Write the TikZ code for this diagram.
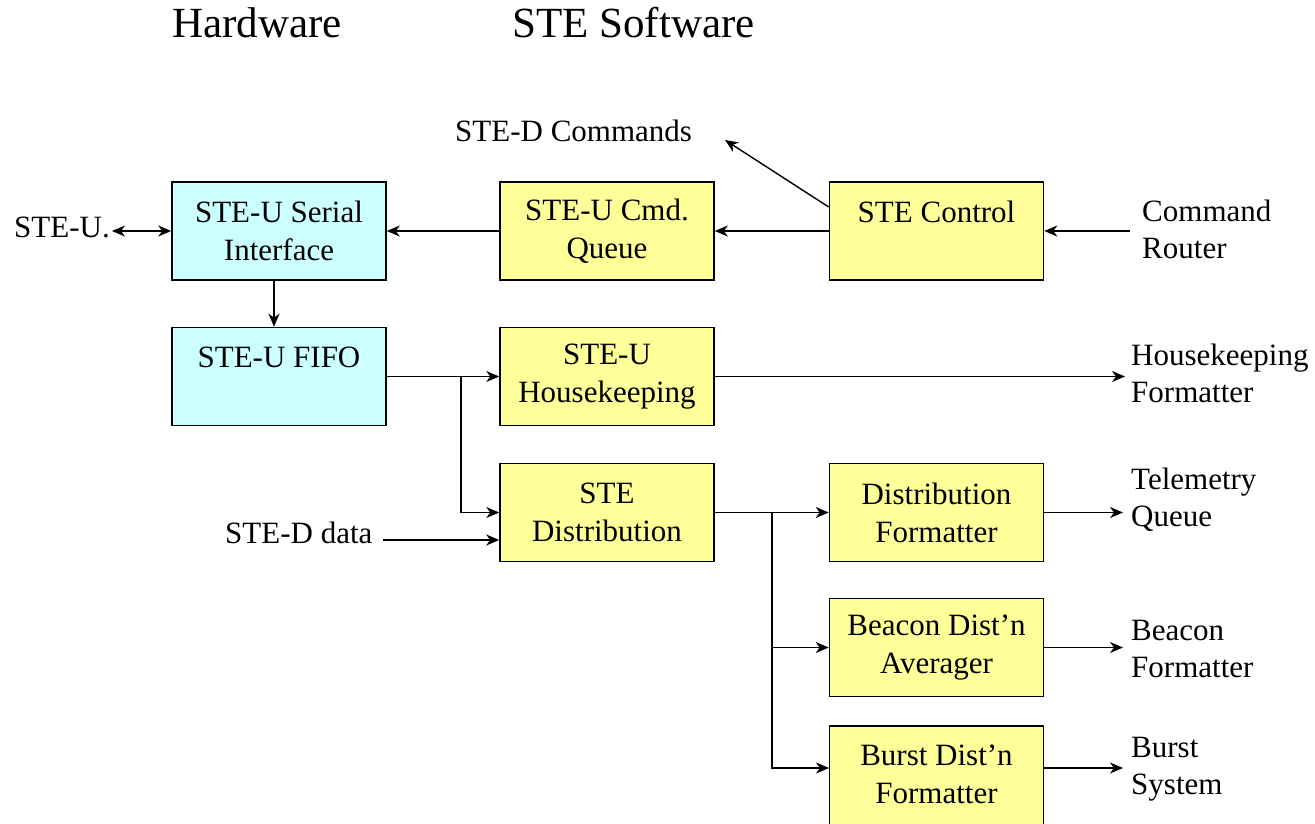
\documentclass[tikz,border=0pt]{standalone}
\usepackage{fontspec}
\setmainfont{Liberation Serif}
\usetikzlibrary{arrows.meta}
\definecolor{hwfill}{HTML}{CCFFFF}
\definecolor{swfill}{HTML}{FFFF99}
\begin{document}
\begin{tikzpicture}[x=1pt,y=-1pt,
  blk/.style={draw=black, line width=1.6pt, minimum width=214pt, minimum height=98pt,
    inner sep=0pt, align=center, font=\fontsize{31}{38}\selectfont},
  hw/.style={blk, fill=hwfill},
  sw/.style={blk, fill=swfill},
  boxtext/.style={inner sep=0pt, align=center, font=\fontsize{31}{38}\selectfont},
  lbl/.style={inner sep=0pt, align=left, font=\fontsize{31}{37}\selectfont},
  ttl/.style={inner sep=0pt, anchor=base west, font=\fontsize{43}{50}\selectfont},
  tip/.style={Stealth[length=13pt,width=11pt,inset=4pt]},
  flow/.style={line width=1.4pt, -{Stealth[length=13pt,width=11pt,inset=4pt]}},
  both/.style={line width=1.4pt, {Stealth[length=13pt,width=11pt,inset=4pt]}-{Stealth[length=13pt,width=11pt,inset=4pt]}},
  ]
\useasboundingbox (0,0) rectangle (1315,824);

% column headings
\node[ttl] (hwt) at (172,38) {Hardware};
\node[ttl] (swt) at (512,38) {STE Software};

% hardware blocks
\node[hw] (serial) at (279,231) {STE-U Serial\\Interface};
\node[hw] (fifo) at (279,376.5) {STE-U FIFO\\\mbox{}};

% software blocks
\node[sw] (cmdq) at (607,231) {STE-U Cmd.\\Queue};
\node[sw] (ctrl) at (936.5,231) {STE Control\\\mbox{}};
\node[sw] (hk) at (607,376.5) {STE-U\\Housekeeping};
\node[sw] (dist) at (607,512.5) {STE\\Distribution};
\node[sw] (dfmt) at (936.5,512.5) {Distribution\\Formatter};
\node[sw] (beacon) at (936.5,647.5) {Beacon Dist’n\\Averager};
\node[sw, minimum height=110pt, anchor=north] (burst) at (936.5,725) {};
\node[boxtext] (bursttxt) at (936.5,774) {Burst Dist’n\\Formatter};

% external endpoints
\node[lbl, anchor=base west] (steu) at (14,237) {STE-U.};
\node[lbl, anchor=base west] (stedc) at (455,142) {STE-D Commands};
\node[lbl, anchor=base west] (sted) at (225,543) {STE-D data};
\node[lbl, anchor=west] (router) at (1142,229) {Command\\Router};
\node[lbl, anchor=west] (hkf) at (1131,373) {Housekeeping\\Formatter};
\node[lbl, anchor=west] (telem) at (1131,500) {Telemetry\\Queue};
\node[lbl, anchor=west] (bfmt) at (1131,649) {Beacon\\Formatter};
\node[lbl, anchor=west] (bsys) at (1131,769) {Burst\\System};

% junctions and free ends
\coordinate (cmdtip) at (725,140);
\coordinate (din) at (383,540);
\coordinate (j1) at (461,376.5);
\coordinate (j2) at (772,512.5);
\coordinate (burstin) at (829,768);

% command path
\draw[both] (serial.west) -- ([xshift=2pt]serial.west -| steu.east);
\draw[flow] (cmdq.west) -- (serial.east);
\draw[flow] (ctrl.west) -- (cmdq.east);
\draw[flow] (ctrl.east -| router.west) ++(-12,0) -- (ctrl.east);
\draw[flow] ([yshift=24pt]ctrl.west) -- (cmdtip);

% telemetry path
\draw[flow] ([xshift=-5pt]serial.south) -- ([xshift=-5pt]fifo.north);
\draw[flow] (fifo.east |- hk.west) -- (hk.west);
\draw[flow] (j1) |- (dist.west);
\draw[flow] (din) -- (din -| dist.west);
\draw[flow, shorten >=6pt] (hk.east) -- (hk.east -| hkf.west);
\draw[flow] (dist.east) -- (dfmt.west);
\draw[flow] (j2) |- (beacon.west);
\draw[flow] (j2) |- (burstin);
\draw[flow, shorten >=8pt] (dfmt.east) -- (dfmt.east -| telem.west);
\draw[flow, shorten >=8pt] (beacon.east) -- (beacon.east -| bfmt.west);
\draw[flow, shorten >=8pt] (burstin -| burst.east) -- (burstin -| bsys.west);
\end{tikzpicture}
\end{document}
